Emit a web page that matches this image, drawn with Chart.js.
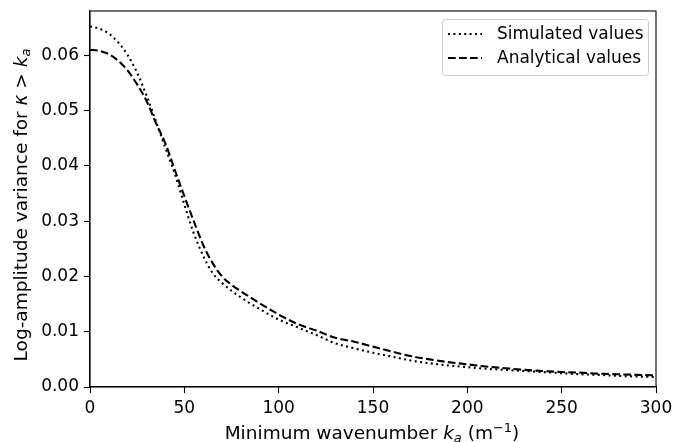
<!DOCTYPE html>
<html>
<head>
<meta charset="utf-8">
<script src="https://cdn.jsdelivr.net/npm/chart.js@4.4.1/dist/chart.umd.min.js"></script>
<style>
  html,body{margin:0;padding:0;background:#fff;}
  #wrap{width:673px;height:442px;position:relative;}
</style>
</head>
<body>
<div id="wrap"><canvas id="chart"></canvas></div>
<script>
/* ---------- data ---------- */
const kValues = [0,5,10,15,20,25,30,35,40,45,50,55,60,65,70,75,80,85,90,95,100,
  110,120,130,140,150,160,170,180,190,200,210,220,230,240,250,260,270,280,290,300];
const simulated = [0.0652,0.0648,0.0639,0.0623,0.0600,0.0568,0.0527,0.0480,0.0432,0.0385,0.0330,0.0278,0.0237,0.0206,0.0188,0.0174,0.0162,0.0151,0.0141,0.0131,0.0122,
  0.0108,0.0094,0.0079,0.0070,0.0062,0.0055,0.0048,0.0043,0.0039,0.0036,0.0033,0.0031,0.0029,0.0027,0.0025,0.0023,0.0022,0.0020,0.0019,0.0018];
const analytical = [0.0610,0.0608,0.0602,0.0590,0.0572,0.0547,0.0517,0.0477,0.0440,0.0392,0.0345,0.0300,0.0257,0.0224,0.0200,0.0185,0.0173,0.0162,0.0151,0.0141,0.0131,
  0.0114,0.0102,0.0089,0.0082,0.0073,0.0064,0.0056,0.0050,0.0045,0.0041,0.0037,0.0034,0.0031,0.0029,0.0027,0.0026,0.0024,0.0023,0.0022,0.0021];
const xTicks = [0,50,100,150,200,250,300];
const yTicks = [0,0.01,0.02,0.03,0.04,0.05,0.06];
const seriesNames = ['Simulated values','Analytical values'];

const FONT = 'DejaVu Sans';
const FS = 17;      // ticks, legend
const TFS = 18.5;   // axis titles
const toPts = ys => kValues.map((k,i) => ({x:k, y:ys[i]}));

/* ---------- text helpers (mixed italic / sub / sup) ---------- */
function runFont(r){ return (r.italic?'italic ':'') + (r.size||TFS) + 'px "' + FONT + '"'; }
function drawRuns(ctx, runs, cx, baseline){
  let w = 0;
  runs.forEach(r => { ctx.font = runFont(r); r.w = ctx.measureText(r.t).width; w += r.w; });
  let x = cx - w/2;
  ctx.textAlign = 'left';
  ctx.textBaseline = 'alphabetic';
  runs.forEach(r => { ctx.font = runFont(r); ctx.fillText(r.t, x, baseline + (r.dy||0)); x += r.w; });
}

/* ---------- frame, axis titles, legend ---------- */
const decor = {
  id:'decor',
  afterDraw(chart){
    const {ctx, chartArea:a} = chart;
    ctx.save();
    ctx.strokeStyle = '#000'; ctx.lineWidth = 1.1;
    ctx.strokeRect(a.left, a.top, a.right - a.left, a.bottom - a.top);
    ctx.fillStyle = '#000';

    // x title
    drawRuns(ctx, [
      {t:'Minimum wavenumber '},
      {t:'k', italic:true},
      {t:'a', italic:true, size:13, dy:3},
      {t:' (m'},
      {t:'\u22121', size:13, dy:-7.5},
      {t:')'}
    ], 372, 439);

    // y title
    ctx.save();
    ctx.translate(21, 205);
    ctx.rotate(-Math.PI/2);
    drawRuns(ctx, [
      {t:'Log-amplitude variance for '},
      {t:'\u03BA', italic:true},
      {t:' > '},
      {t:'k', italic:true},
      {t:'a', italic:true, size:13, dy:3}
    ], 0, 6);
    ctx.restore();

    // legend
    const bx = 442, by = 19, bw = 206, bh = 56;
    ctx.beginPath();
    ctx.roundRect(bx + 0.5, by + 0.5, bw, bh, 3);
    ctx.fillStyle = 'rgba(255,255,255,0.8)';
    ctx.fill();
    ctx.strokeStyle = '#cccccc'; ctx.lineWidth = 1;
    ctx.stroke();
    chart.data.datasets.forEach((ds, i) => {
      const y = 34 + i*24;
      ctx.beginPath();
      ctx.setLineDash(ds.borderDash);
      ctx.strokeStyle = ds.borderColor; ctx.lineWidth = ds.borderWidth;
      ctx.moveTo(448, y); ctx.lineTo(482, y);
      ctx.stroke();
      ctx.setLineDash([]);
      ctx.fillStyle = '#000';
      ctx.font = FS + 'px "' + FONT + '"';
      ctx.textAlign = 'left'; ctx.textBaseline = 'middle';
      ctx.fillText(ds.label, 497, y + 1);
    });
    ctx.restore();
  }
};

/* ---------- chart ---------- */
const axisStyle = {
  grid:{display:true, drawOnChartArea:false, drawTicks:true, tickLength:6, color:'#000', tickWidth:1.1},
  border:{display:true, color:'#000', width:1.1},
  ticks:{color:'#000', font:{family:FONT, size:FS}, padding:5}
};
const noPad = s => { s.paddingLeft = 0; s.paddingRight = 0; s.paddingTop = 0; s.paddingBottom = 0; };

new Chart(document.getElementById('chart'), {
  type:'line',
  data:{datasets:[
    {label:seriesNames[0], data:toPts(simulated), borderColor:'#000', borderWidth:2.1,
     borderDash:[2,3.4], pointRadius:0, fill:false, cubicInterpolationMode:'monotone'},
    {label:seriesNames[1], data:toPts(analytical), borderColor:'#000', borderWidth:2.1,
     borderDash:[7.7,3.3], pointRadius:0, fill:false, cubicInterpolationMode:'monotone'}
  ]},
  options:{
    responsive:true, maintainAspectRatio:false, animation:false,
    layout:{padding:{top:11, right:17, left:0, bottom:0}},
    plugins:{legend:{display:false}, tooltip:{enabled:false}},
    scales:{
      x:{type:'linear', min:0, max:300, ...axisStyle,
         ticks:{...axisStyle.ticks, maxRotation:0, callback:v => String(v)},
         afterBuildTicks:s => { s.ticks = xTicks.map(v => ({value:v})); },
         afterFit:s => { s.height = 55; noPad(s); }},
      y:{type:'linear', min:0, max:0.068, ...axisStyle,
         ticks:{...axisStyle.ticks, callback:v => v.toFixed(2)},
         afterBuildTicks:s => { s.ticks = yTicks.map(v => ({value:v})); },
         afterFit:s => { s.width = 90; noPad(s); }}
    }
  },
  plugins:[decor]
});
</script>
</body>
</html>
